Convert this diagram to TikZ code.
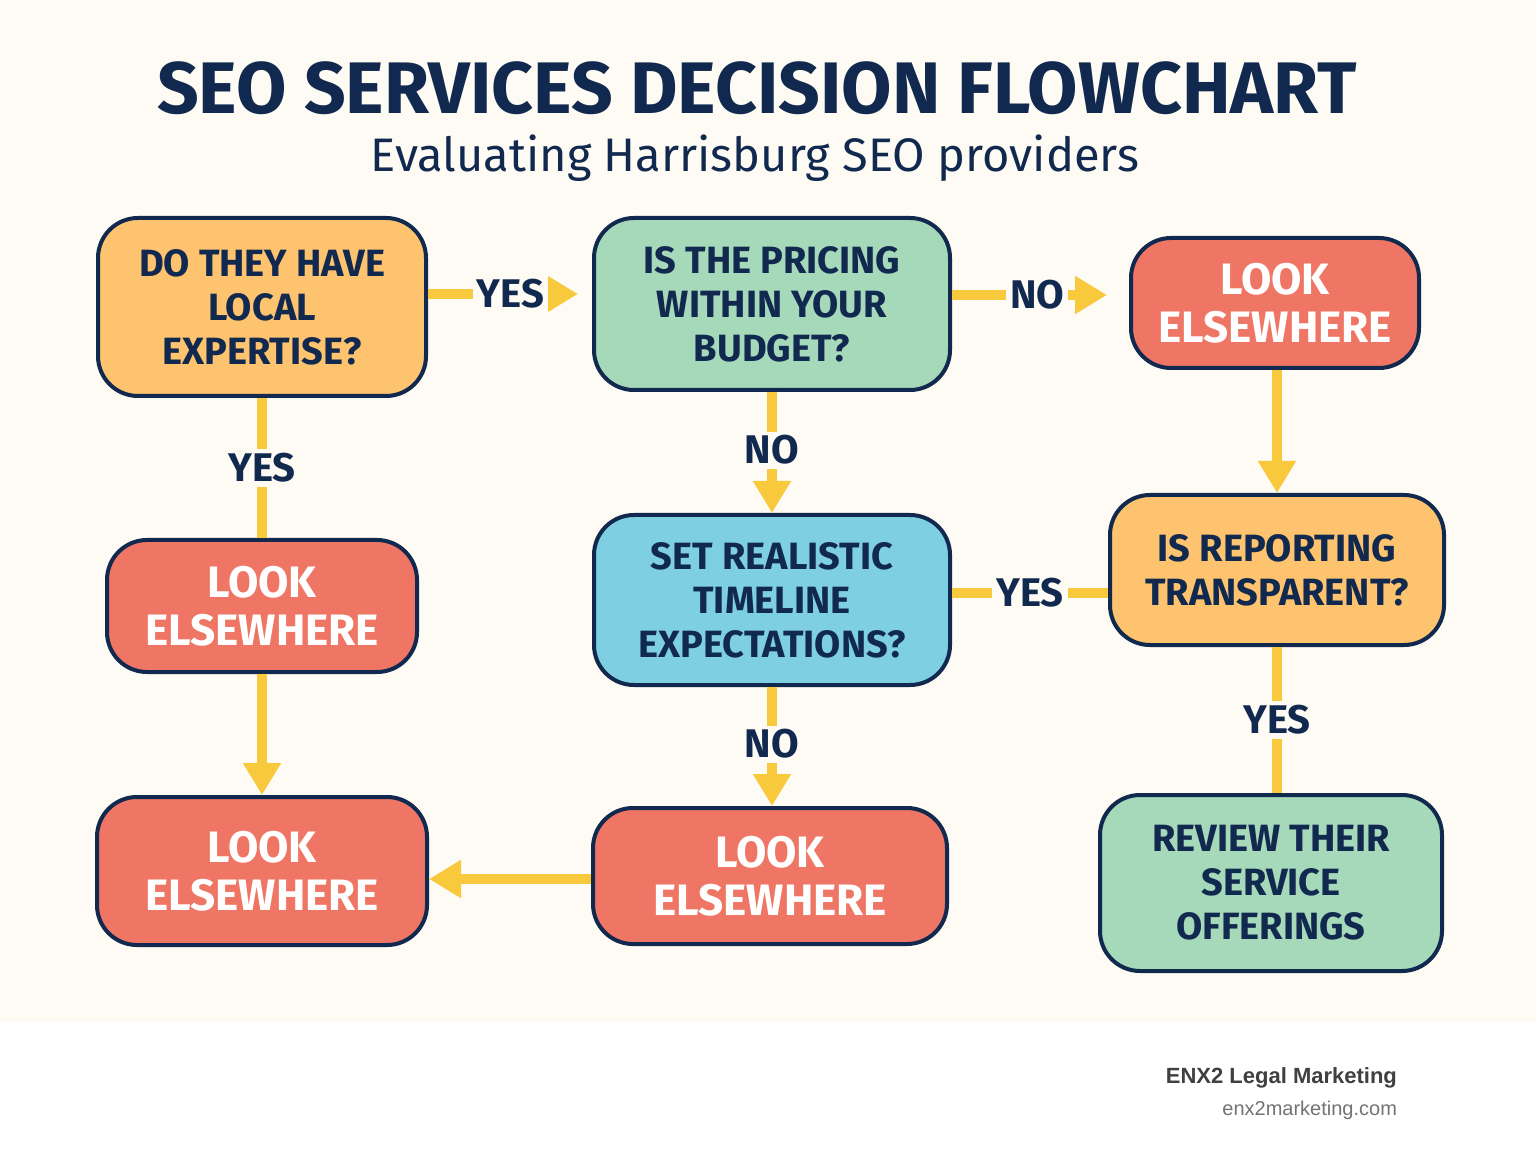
\documentclass[tikz,border=0pt]{standalone}
\usepackage{fontspec}
\setmainfont{Fira Sans}
\newfontfamily\footfont{Liberation Sans}
\usetikzlibrary{arrows.meta}
\definecolor{cream}{HTML}{FDFBF3}
\definecolor{navy}{HTML}{12294F}
\definecolor{yel}{HTML}{F8C93C}
\definecolor{orng}{HTML}{FDC36F}
\definecolor{grn}{HTML}{A6D8BA}
\definecolor{rd}{HTML}{EF7664}
\definecolor{blu}{HTML}{7ECFE2}
\tikzset{
 box/.style={draw=navy,line width=2pt,rounded corners=20pt,align=center,font=\fontsize{19}{22}\selectfont\bfseries,text=navy,inner sep=0pt},
 redbox/.style={box,fill=rd,text=white,font=\fontsize{22}{24}\selectfont\bfseries},
 conn/.style={draw=yel,line width=5pt},
 arr/.style={conn,-{Triangle[length=16pt,width=18pt]}},
 lab/.style={fill=cream,text=navy,font=\fontsize{20}{22}\selectfont\bfseries,inner sep=2pt}
}
\begin{document}
\begin{tikzpicture}[x=0.5pt,y=-0.5pt]
\fill[white] (0,0) rectangle (1536,1154);
\fill[cream] (0,0) rectangle (1536,1022);
\useasboundingbox (0,0) rectangle (1536,1154);
\node[text=navy,font=\fontsize{36.5}{40}\selectfont\bfseries] (title) at (757,88) {SEO SERVICES DECISION FLOWCHART};
\node[text=navy,font=\fontsize{23.5}{26}\selectfont] (sub) at (755,158) {Evaluating Harrisburg SEO providers};
\node[box,fill=orng,minimum width=164pt,minimum height=89pt] (b1) at (262,307) {DO THEY HAVE\\LOCAL\\EXPERTISE?};
\node[box,fill=grn,minimum width=178pt,minimum height=86pt] (b2) at (772,304) {IS THE PRICING\\WITHIN YOUR\\BUDGET?};
\node[redbox,minimum width=144pt,minimum height=65pt] (b3) at (1275,303) {LOOK\\ELSEWHERE};
\node[redbox,minimum width=155pt,minimum height=66pt] (b4) at (262,606) {LOOK\\ELSEWHERE};
\node[box,fill=blu,minimum width=178pt,minimum height=85pt] (b5) at (772,600) {SET REALISTIC\\TIMELINE\\EXPECTATIONS?};
\node[box,fill=orng,minimum width=167pt,minimum height=75pt] (b6) at (1277,570) {IS REPORTING\\TRANSPARENT?};
\node[redbox,minimum width=165pt,minimum height=74pt] (b7) at (262,871) {LOOK\\ELSEWHERE};
\node[redbox,minimum width=177pt,minimum height=68pt] (b8) at (770,876) {LOOK\\ELSEWHERE};
\node[box,fill=grn,minimum width=171pt,minimum height=88pt] (b9) at (1271,883) {REVIEW THEIR\\SERVICE\\OFFERINGS};
\coordinate (t2) at (578,294);
\coordinate (t3) at (1107,295);
\draw[arr] (b1.east|-t2) -- (t2) node[lab,pos=0.55] {YES};
\draw[arr] (b2.east|-t3) -- (t3) node[lab,pos=0.55] {NO};
\draw[conn] (b1) -- (b4) node[lab,pos=0.5] {YES};
\draw[arr] (b2) -- (b5) node[lab,pos=0.48] {NO};
\draw[arr] (b3.south-|1277,0) -- (b6.north-|1277,0);
\draw[conn] (b6.west|-0,593) -- (b5.east|-0,593) node[lab,pos=0.5] {YES};
\draw[arr] (b5.south-|772,0) -- (b8.north-|772,0) node[lab,pos=0.48] {NO};
\draw[conn] (b6.south-|1277,0) -- (b9.north-|1277,0) node[lab,pos=0.5] {YES};
\draw[arr] (b4) -- (b7);
\draw[arr] (b8.west|-0,879) -- (b7.east|-0,879);
\node[anchor=east,text=black!75,font=\footfont\bfseries\fontsize{11}{12}\selectfont] (f1) at (1404,1078) {ENX2 Legal Marketing};
\node[anchor=east,text=black!55,font=\footfont\fontsize{10}{12}\selectfont] (f2) at (1404,1110) {enx2marketing.com};
\end{tikzpicture}
\end{document}
